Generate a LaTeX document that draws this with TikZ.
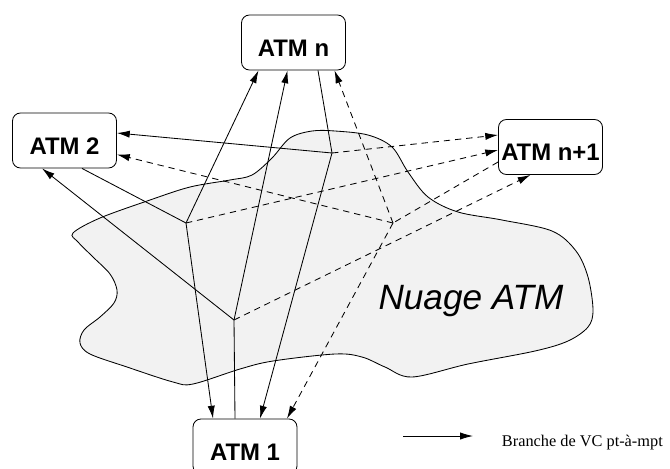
\documentclass[tikz,border=0pt]{standalone}
\usepackage{fontspec}
\setmainfont{Liberation Serif}
\newfontfamily\atmfont{Liberation Sans}
\usetikzlibrary{calc,arrows.meta}
\tikzset{
	atmbox/.style={draw, line width=0.6pt, fill=white, rounded corners=0.2cm, minimum width=2.6cm, minimum height=1.375cm, inner sep=1pt, text height=0.68cm, text depth=0cm, font=\atmfont\fontsize{17}{20}\selectfont\bfseries},
	branche/.style={line width=0.6pt},
	fleche/.style={branche, -{Latex[length=3.2mm,width=1.8mm]}},
	pointille/.style={dash pattern=on 4.5pt off 3.5pt},
}

\begin{document}
\begin{tikzpicture}[x=0.025cm, y=-0.025cm]
			%%%%% START %%%%%
			\useasboundingbox (0,0) rectangle (670,468);
			
			% nuage
			\draw[line width=0.6pt, fill=black!5] plot[smooth cycle, tension=0.55] coordinates {
				(73,233) (100,218) (150,200) (190,187) (230,180) (252,175) (272,158) (290,138)
				(312,131) (335,131) (368,135) (392,147) (408,172) (428,197) (458,212) (502,220)
				(552,231) (576,251) (588,277) (593,310) (588,327) (568,341) (535,351) (468,364)
				(412,377) (385,367) (362,357) (335,354) (273,361) (240,369) (193,384) (173,382)
				(127,367) (90,354) (80,343) (84,330) (100,317) (114,303) (117,290) (110,274)
				(93,257) (78,242)};
			\node[font=\atmfont\itshape\fontsize{25}{30}\selectfont, anchor=base] (nuage) at (471,309) {Nuage ATM};
			
			% commutateurs
			\node[atmbox] (atm1) at (245,446.5) {ATM 1};
			\node[atmbox] (atm2) at (64.5,140.5) {ATM 2};
			\node[atmbox] (atmn) at (293.5,42.5) {ATM n};
			\node[atmbox] (atmnp) at (550.5,147) {ATM n+1};
			
			% points de branchement
			\coordinate (b1) at (234,320);
			\coordinate (b2) at (186,223);
			\coordinate (bn) at (332,153);
			\coordinate (bnp) at (393,223);
			
			% arbre de ATM 1
			\draw[branche] ($(atm1.north)+(-10,0)$) -- (b1);
			\draw[fleche] (b1) -- ($(atm2.south)+(-22.5,0)$);
			\draw[fleche] (b1) -- ($(atmn.south)+(-6,0)$);
			\draw[fleche, pointille] (b1) -- ($(atmnp.south)+(-20,0)$);
			
			% arbre de ATM 2
			\draw[branche] ($(atm2.south)+(17.5,0)$) -- (b2);
			\draw[fleche] (b2) -- ($(atmn.south)+(-35,0)$);
			\draw[fleche] (b2) -- ($(atm1.north)+(-32,0)$);
			\draw[fleche, pointille] (b2) -- ($(atmnp.west)+(0,3)$);
			
			% arbre de ATM n
			\draw[branche] ($(atmn.south)+(24.5,0)$) -- (bn);
			\draw[fleche] (bn) -- ($(atm2.east)+(0,-7.5)$);
			\draw[fleche] (bn) -- ($(atm1.north)+(15,0)$);
			\draw[fleche, pointille] (bn) -- ($(atmnp.west)+(0,-12)$);
			
			% arbre de ATM n+1
			\draw[branche, pointille] ($(atmnp.west)+(0,15)$) -- (bnp);
			\draw[fleche, pointille] (bnp) -- ($(atmn.south)+(41,0)$);
			\draw[fleche, pointille] (bnp) -- ($(atm2.east)+(0,14)$);
			\draw[fleche, pointille] (bnp) -- ($(atm1.north)+(42,0)$);
			
			% legende
			\coordinate (leg1) at (403,436);
			\coordinate (leg2) at (473,436);
			\draw[fleche] (leg1) -- (leg2);
			\node[anchor=base west, font=\fontsize{11.6}{14}\selectfont] (legende) at (497,446) {Branche de VC pt-à-mpt};
			
			%%%%% END %%%%%
\end{tikzpicture}
\end{document}
